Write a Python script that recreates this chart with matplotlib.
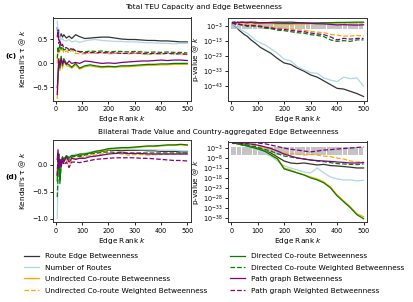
import numpy as np
import matplotlib
matplotlib.use("Agg")
import matplotlib.pyplot as plt

k = [5, 8, 11, 15, 20, 25, 30, 40, 50, 60, 75, 90, 110, 130, 150, 175, 200,
     225, 250, 275, 300, 325, 350, 375, 400, 425, 450, 475, 500]

labels = ["Route Edge Betweenness", "Number of Routes",
          "Undirected Co-route Betweenness", "Undirected Co-route Weighted Betweenness",
          "Directed Co-route Betweenness", "Directed Co-route Weighted Betweenness",
          "Path graph Betweenness", "Path graph Weighted Betweenness"]
colors = ["#333333", "#add8e6", "#ffa500", "#ffa500", "#008000", "#008000", "#800080", "#800080"]
styles = ["-", "-", "-", "--", "-", "--", "-", "--"]

# (c) Kendall tau
tau_c = [
    [0.75, 0.55, 0.68, 0.55, 0.62, 0.55, 0.60, 0.53, 0.57, 0.52, 0.60, 0.56, 0.52, 0.53, 0.54, 0.55, 0.55, 0.53, 0.51, 0.50, 0.50, 0.49, 0.48, 0.48, 0.47, 0.47, 0.46, 0.45, 0.45],
    [0.88, 0.65, 0.72, 0.55, 0.50, 0.52, 0.48, 0.47, 0.50, 0.45, 0.47, 0.44, 0.47, 0.49, 0.50, 0.48, 0.47, 0.46, 0.46, 0.45, 0.45, 0.44, 0.43, 0.43, 0.42, 0.42, 0.41, 0.42, 0.42],
    [-0.73, -0.35, 0.00, -0.15, 0.10, -0.10, 0.05, -0.05, -0.06, -0.10, -0.03, -0.12, -0.07, -0.05, -0.07, -0.09, -0.08, -0.08, -0.07, -0.07, -0.06, -0.05, -0.04, -0.04, -0.03, -0.03, -0.02, -0.02, -0.02],
    [0.00, 0.30, 0.20, 0.35, 0.25, 0.30, 0.22, 0.26, 0.22, 0.28, 0.21, 0.20, 0.20, 0.22, 0.21, 0.22, 0.20, 0.21, 0.21, 0.20, 0.21, 0.20, 0.19, 0.20, 0.20, 0.21, 0.20, 0.20, 0.19],
    [-0.50, -0.30, 0.05, -0.10, 0.15, -0.05, 0.10, 0.00, -0.03, -0.08, 0.00, -0.10, -0.05, -0.03, -0.05, -0.07, -0.06, -0.07, -0.05, -0.05, -0.04, -0.03, -0.02, -0.02, -0.01, -0.01, 0.00, 0.00, 0.00],
    [0.10, 0.35, 0.25, 0.40, 0.30, 0.35, 0.28, 0.30, 0.27, 0.33, 0.26, 0.25, 0.24, 0.26, 0.25, 0.26, 0.24, 0.25, 0.25, 0.24, 0.25, 0.24, 0.23, 0.24, 0.23, 0.24, 0.23, 0.23, 0.22],
    [-0.65, -0.20, 0.10, -0.05, 0.10, 0.00, 0.05, -0.02, 0.05, 0.00, 0.02, 0.00, 0.05, 0.04, 0.02, 0.00, 0.01, 0.00, 0.02, 0.03, 0.04, 0.05, 0.05, 0.06, 0.07, 0.06, 0.07, 0.07, 0.06],
    [0.55, 0.70, 0.42, 0.50, 0.35, 0.40, 0.32, 0.33, 0.29, 0.30, 0.27, 0.24, 0.22, 0.23, 0.22, 0.23, 0.22, 0.22, 0.21, 0.21, 0.22, 0.21, 0.20, 0.21, 0.20, 0.21, 0.20, 0.20, 0.19],
]

# (c) log10 p-value
logp_c = [
    [-1.0, -1.5, -2.0, -2.7, -3.5, -4.5, -5.5, -7.0, -8.5, -9.5, -12, -14, -17, -19, -21, -24.5, -27.5, -28.5, -31, -33, -35.5, -37, -39.5, -42, -44.5, -45, -46.5, -48, -50],
    [-0.8, -1.3, -1.8, -2.5, -3.2, -4.0, -4.5, -5.5, -6.5, -7.5, -9.5, -12, -14, -15.5, -18, -21, -25, -26, -30, -32, -34, -34.5, -37.5, -39, -40, -37, -38, -37.5, -43],
    [-0.3, -0.8, -0.1, -0.5, -0.4, -0.5, -0.3, -0.4, -0.5, -1.0, -0.4, -1.3, -1.0, -0.8, -1.1, -1.5, -1.5, -1.6, -1.4, -1.4, -1.2, -1.0, -0.8, -0.8, -0.6, -0.6, -0.5, -0.4, -0.4],
    [-0.2, -0.6, -0.4, -1.0, -0.9, -1.2, -1.0, -1.4, -1.5, -2.2, -1.8, -2.0, -2.3, -3.0, -3.3, -4.0, -4.2, -4.8, -5.3, -5.5, -6.3, -6.8, -7.2, -8.3, -8.8, -9.5, -9.5, -9.0, -9.5],
    [-0.2, -0.5, -0.1, -0.3, -0.6, -0.2, -0.4, -0.1, -0.2, -0.6, -0.1, -0.8, -0.5, -0.4, -0.6, -0.9, -0.9, -1.0, -0.8, -0.8, -0.7, -0.6, -0.5, -0.5, -0.3, -0.3, -0.2, -0.1, -0.1],
    [-0.3, -0.8, -0.6, -1.3, -1.2, -1.6, -1.5, -2.0, -2.1, -3.0, -2.6, -2.8, -3.2, -4.2, -4.5, -5.5, -5.8, -6.5, -7.2, -7.5, -8.5, -9.0, -9.8, -12, -13, -12.5, -13, -12, -12],
    [-0.5, -0.2, -0.2, -0.1, -0.4, -0.1, -0.3, -0.1, -0.3, -0.1, -0.2, -0.1, -0.6, -0.5, -0.3, -0.1, -0.2, -0.1, -0.4, -0.6, -0.9, -1.2, -1.3, -1.6, -2.0, -1.8, -2.0, -2.1, -1.9],
    [-0.5, -1.0, -0.8, -1.5, -1.3, -1.7, -1.5, -2.0, -2.0, -2.5, -2.3, -2.5, -2.8, -3.6, -3.9, -4.8, -5.0, -5.6, -6.2, -6.5, -7.4, -8.0, -8.5, -10, -12, -11, -11.5, -11, -11],
]

# (d) Kendall tau
tau_d = [
    [-0.20, 0.10, 0.20, -0.10, 0.05, 0.12, 0.10, 0.15, 0.12, 0.15, 0.18, 0.17, 0.20, 0.22, 0.23, 0.25, 0.27, 0.27, 0.26, 0.27, 0.27, 0.27, 0.26, 0.26, 0.25, 0.25, 0.25, 0.24, 0.24],
    [-1.00, -0.30, 0.15, -0.10, 0.10, 0.15, 0.12, 0.17, 0.15, 0.18, 0.20, 0.19, 0.22, 0.24, 0.25, 0.27, 0.28, 0.29, 0.29, 0.29, 0.29, 0.28, 0.28, 0.28, 0.27, 0.27, 0.27, 0.26, 0.26],
    [-0.28, 0.00, 0.20, -0.30, 0.05, 0.14, 0.10, 0.16, 0.12, 0.16, 0.17, 0.19, 0.20, 0.22, 0.24, 0.26, 0.29, 0.30, 0.31, 0.31, 0.32, 0.33, 0.34, 0.34, 0.35, 0.36, 0.36, 0.37, 0.36],
    [-0.10, 0.10, 0.15, 0.00, 0.05, 0.10, 0.05, 0.10, -0.05, 0.10, 0.12, 0.12, 0.15, 0.17, 0.18, 0.20, 0.22, 0.21, 0.20, 0.18, 0.19, 0.19, 0.18, 0.19, 0.19, 0.20, 0.20, 0.20, 0.20],
    [-0.30, 0.00, 0.20, -0.35, 0.05, 0.15, 0.10, 0.17, 0.13, 0.17, 0.17, 0.20, 0.20, 0.22, 0.25, 0.27, 0.30, 0.31, 0.32, 0.32, 0.33, 0.34, 0.35, 0.35, 0.36, 0.37, 0.37, 0.38, 0.37],
    [-0.60, -0.20, 0.10, -0.30, 0.00, 0.10, 0.08, 0.14, 0.10, 0.14, 0.16, 0.15, 0.18, 0.20, 0.21, 0.23, 0.24, 0.23, 0.23, 0.22, 0.22, 0.22, 0.22, 0.22, 0.22, 0.22, 0.22, 0.22, 0.22],
    [0.10, 0.28, 0.00, 0.10, 0.00, 0.12, 0.05, 0.15, 0.05, 0.12, 0.10, 0.12, 0.12, 0.15, 0.16, 0.18, 0.20, 0.21, 0.22, 0.21, 0.21, 0.21, 0.20, 0.20, 0.20, 0.20, 0.20, 0.20, 0.20],
    [-0.20, 0.20, -0.05, 0.10, -0.05, 0.10, 0.00, 0.05, -0.05, 0.05, 0.05, 0.04, 0.06, 0.08, 0.10, 0.11, 0.12, 0.13, 0.13, 0.13, 0.13, 0.12, 0.12, 0.11, 0.10, 0.09, 0.08, 0.08, 0.07],
]

# (d) log10 p-value
logp_d = [
    [-0.2, -0.4, -0.6, -0.4, -0.5, -0.8, -0.8, -1.2, -1.3, -1.7, -2.2, -2.6, -3.5, -4.5, -5.5, -7.5, -9.5, -10.5, -10.8, -10.5, -11, -11.5, -11.2, -11.8, -12, -12.3, -12.6, -13, -13],
    [-0.1, -0.3, -0.5, -0.4, -0.6, -0.9, -1.0, -1.5, -1.7, -2.2, -2.8, -3.5, -4.6, -5.8, -7.2, -9.5, -12, -13, -14, -15, -15.5, -13, -15.5, -17.5, -18.5, -19, -19, -19.5, -19.2],
    [-0.3, -0.5, -0.7, -0.5, -0.8, -0.9, -1.0, -1.4, -1.5, -1.9, -2.4, -2.9, -3.6, -4.6, -6.2, -8.2, -13, -14, -15.5, -16.5, -17.5, -18.5, -20, -22.5, -26.5, -29.5, -32.5, -36, -37.5],
    [-0.2, -0.3, -0.4, -0.1, -0.3, -0.5, -0.3, -0.6, -0.2, -0.8, -1.2, -1.5, -2.1, -2.8, -3.5, -4.5, -5.5, -5.8, -6.0, -6.5, -6.2, -6.5, -7.0, -7.3, -8.0, -8.5, -9.5, -10, -10],
    [-0.3, -0.5, -0.7, -0.5, -0.8, -1.0, -1.0, -1.5, -1.6, -2.0, -2.5, -3.0, -3.8, -4.8, -6.5, -8.5, -13.5, -14.5, -15.5, -16.5, -18, -19, -20.5, -23, -27, -30, -33, -36.5, -38.5],
    [-0.4, -0.2, -0.5, -0.5, -0.5, -0.8, -0.8, -1.2, -1.0, -1.4, -2.0, -2.2, -3.0, -3.8, -4.5, -5.8, -7.0, -7.5, -8.0, -8.5, -9.0, -9.5, -9.8, -10.3, -10.8, -11, -11.2, -11.3, -11.0],
    [-0.3, -0.8, -0.1, -0.3, -0.1, -0.5, -0.3, -0.8, -0.4, -0.8, -1.0, -1.3, -1.8, -2.5, -3.2, -4.5, -6.0, -7.0, -8.0, -8.5, -9.0, -9.3, -9.5, -9.7, -10, -10.2, -10.5, -10.5, -10.3],
    [-0.2, -0.5, -0.1, -0.3, -0.1, -0.3, -0.1, -0.3, -0.1, -0.3, -0.3, -0.3, -0.6, -0.9, -1.5, -2.2, -3.0, -3.6, -4.0, -4.5, -4.9, -4.5, -4.0, -3.8, -3.5, -3.2, -3.0, -2.7, -2.4],
]

# grey reference band (log10 bounds) drawn as boxes
band_k = list(range(10, 500, 20))
band_c = (-5.0, -1.0)
band_d = (-6.5, -2.5)

c_yticks = [-3, -13, -23, -33, -43]
d_yticks = [-3, -8, -13, -18, -23, -28, -33, -38]

FS = 5.3
TFS = 4.7
plt.rcParams.update({
    "font.family": "DejaVu Sans",
    "font.size": FS,
    "xtick.labelsize": TFS, "ytick.labelsize": TFS,
    "axes.linewidth": 0.7,
    "xtick.major.width": 0.6, "ytick.major.width": 0.6,
    "xtick.major.size": 2.5, "ytick.major.size": 2.5,
    "xtick.major.pad": 1.5, "ytick.major.pad": 1.5,
})

fig = plt.figure(figsize=(4.14, 3.02), dpi=100)
W, H = 414.0, 302.0

def ax_at(x0, y0, x1, y1):
    return fig.add_axes([x0 / W, 1 - y1 / H, (x1 - x0) / W, (y1 - y0) / H])

ax_ct = ax_at(53.3, 17.5, 190.7, 100.7)
ax_cp = ax_at(228.5, 17.5, 367, 100.7)
ax_dt = ax_at(53.3, 139.5, 190.7, 222.3)
ax_dp = ax_at(228.5, 141.5, 367, 222.3)

kk = np.array(k)
handles = []
for ax, tau in ((ax_ct, tau_c), (ax_dt, tau_d)):
    for i in range(8):
        h, = ax.plot(kk, tau[i], color=colors[i], ls=styles[i], lw=0.9)
        if ax is ax_ct:
            handles.append(h)
    ax.set_ylabel("Kendall's τ @ $k$", labelpad=3)

for ax, lp, band, yt in ((ax_cp, logp_c, band_c, c_yticks), (ax_dp, logp_d, band_d, d_yticks)):
    ax.set_yscale("log")
    lo, hi = 10.0 ** band[0], 10.0 ** band[1]
    ax.bar(band_k, [hi - lo] * len(band_k), bottom=lo, width=18, color="#c4c4c4",
           edgecolor="none", zorder=1)
    for i in range(8):
        ax.plot(kk, 10.0 ** np.array(lp[i]), color=colors[i], ls=styles[i], lw=0.9, zorder=2)
    ax.set_yticks([10.0 ** t for t in yt])
    ax.set_yticklabels(["$10^{%d}$" % t for t in yt])
    ax.minorticks_off()
    ax.set_ylabel("p-value @ $k$", labelpad=2)

ax_ct.set_ylim(-0.78, 0.96)
ax_ct.set_yticks([-0.5, 0.0, 0.5])
ax_dt.set_ylim(-1.07, 0.47)
ax_dt.set_yticks([-1.0, -0.5, 0.0])
ax_cp.set_ylim(10.0 ** -52.8, 10.0 ** 3.0)
ax_dp.set_ylim(10.0 ** -40.3, 10.0 ** 0.3)

for ax in (ax_ct, ax_cp, ax_dt, ax_dp):
    ax.set_xlim(-10, 513)
    ax.set_xticks([0, 100, 200, 300, 400, 500])
    ax.set_xlabel("Edge Rank $k$", labelpad=1.5)
    for s in ax.spines.values():
        s.set_color("#333333")

fig.text(203 / W, 1 - 7.5 / H, "Total TEU Capacity and Edge Betweenness", ha="center", va="center")
fig.text(218 / W, 1 - 132 / H, "Bilateral Trade Value and Country-aggregated Edge Betweenness",
         ha="center", va="center")
fig.text(11 / W, 1 - 56 / H, "(c)", ha="center", va="center", fontweight="bold")
fig.text(11 / W, 1 - 177 / H, "(d)", ha="center", va="center", fontweight="bold")

fig.legend(handles, labels, ncol=2, loc="upper left", bbox_to_anchor=(24 / W, 1 - 253 / H),
           frameon=False, handlelength=2.1, handletextpad=0.8, labelspacing=0.72,
           columnspacing=3.0, borderpad=0, borderaxespad=0, fontsize=FS)

fig.savefig("out.png", dpi=100)
